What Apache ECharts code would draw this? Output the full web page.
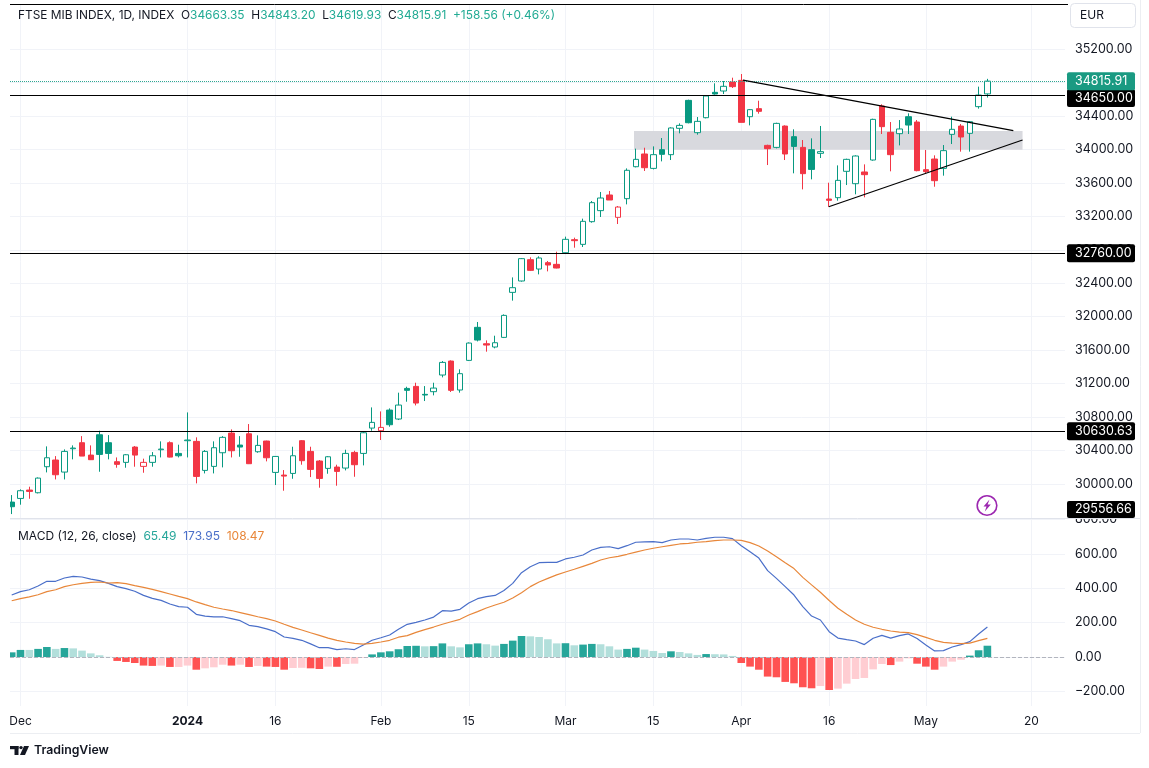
<!DOCTYPE html>
<html><head><meta charset="utf-8">
<style>html,body{margin:0;padding:0;background:#fff}#c{width:1149px;height:768px}</style>
<script src="https://cdn.jsdelivr.net/npm/echarts@6/dist/echarts.min.js"></script>
</head><body><div id="c"></div>
<script>
const opens=[29784,29828,29928,29896,30207,30287,30143,30422,30494,30346,30589,30494,30267,30259,30442,30211,30259,30410,30494,30366,30518,30510,30163,30211,30374,30609,30466,30601,30386,30514,30139,30107,30127,30518,30390,30275,30187,30203,30191,30378,30366,30669,30637,30884,30777,31143,31167,31072,31104,31303,31470,31124,31478,31873,31677,31638,31753,32291,32427,32682,32570,32646,32626,32765,32921,32865,33136,33268,33455,33188,33411,33793,33945,33773,33997,33937,34252,34586,34200,34379,34682,34698,34806,34825,34391,34487,34048,34024,34279,34152,34024,33997,33953,33407,33423,33738,33590,33730,33873,34519,34204,34188,34391,34327,33758,33885,33773,34180,34279,34192,34511,34663.35];
const closes=[29729,29920,29912,30071,30314,30111,30390,30430,30334,30291,30354,30366,30235,30350,30346,30259,30338,30418,30322,30338,30526,30091,30390,30434,30558,30398,30442,30243,30462,30314,30330,30095,30338,30279,30175,30067,30326,30151,30366,30231,30613,30737,30677,30709,30944,31120,30968,31064,31147,31454,31120,31319,31685,31721,31661,31689,32016,32347,32694,32554,32702,32618,32582,32925,32909,33140,33363,33419,33395,33311,33750,33881,33781,33937,33941,34256,34287,34319,34335,34638,34662,34754,34750,34323,34475,34455,34009,34311,33945,34036,33710,33761,33973,33391,33630,33881,33921,33698,34359,34272,33937,34244,34291,33746,33734,33626,33985,34240,34148,34331,34650,34815.91];
const highs=[29868,29936,29968,30079,30450,30334,30414,30462,30573,30462,30637,30585,30318,30358,30454,30303,30382,30510,30510,30470,30856,30558,30406,30510,30573,30653,30573,30717,30582,30518,30334,30167,30446,30526,30446,30287,30334,30231,30410,30398,30629,30916,30868,30904,31092,31163,31211,31171,31211,31470,31478,31371,31693,31937,31717,31773,32028,32470,32702,32710,32722,32666,32777,32957,32945,33172,33383,33491,33503,33323,33773,34009,34020,34036,34136,34264,34311,34594,34387,34646,34790,34817,34857,34901,34483,34582,34056,34319,34287,34240,34112,34132,34280,33602,33809,33889,33929,33821,34367,34539,34327,34351,34431,34351,33993,33929,34052,34391,34303,34339,34750,34843.2];
const lows=[29641,29753,29824,29888,30139,30055,30055,30295,30334,30287,30147,30295,30195,30195,30207,30135,30207,30318,30318,30318,30318,30008,30127,30127,30199,30318,30326,30239,30374,30271,29988,29920,30063,30231,30083,29956,30123,29980,30163,30087,30223,30637,30526,30685,30765,30984,30940,30992,31060,31275,31100,31092,31470,31705,31582,31622,31745,32192,32419,32546,32506,32542,32578,32749,32825,32833,33124,33192,33395,33108,33343,33785,33742,33761,33857,33873,34192,34311,34176,34371,34654,34662,34734,34323,34287,34427,33813,34012,33873,33714,33522,33642,33897,33315,33387,33574,33463,33427,33865,34184,33738,34048,34184,33738,33706,33554,33686,34064,33973,33973,34487,34619.93];
const macdLine=[360,380,391,413,440,440,459,469,465,453,444,428,409,397,382,358,341,329,308,293,289,248,238,233,234,223,211,184,176,163,147,116,108,97,76,54,54,43,48,43,70,97,112,128,161,190,201,215,232,269,267,277,314,339,351,358,386,428,490,525,548,550,550,570,580,593,622,637,641,630,647,667,669,671,665,680,686,686,680,690,696,696,688,647,612,575,502,457,409,360,293,238,215,147,110,101,93,72,109,126,110,124,134,107,70,35,37,58,72,89,134,173.95];
const signalLine=[327,339,349,362,380,391,409,420,428,434,436,430,432,426,415,405,393,380,366,352,339,320,304,289,279,270,258,246,234,223,209,190,172,157,141,126,110,97,87,79,75,79,87,97,115,124,143,159,174,190,205,219,244,264,285,302,318,343,374,409,436,457,477,494,510,527,544,564,577,585,597,610,622,632,641,649,657,661,667,671,676,680,680,678,665,645,616,583,548,514,463,419,376,328,283,248,215,190,173,161,151,145,142,130,114,97,85,81,78,81,95,108.47];
const histogram=[27,41,41,47,58,47,52,50,37,21,10,1,-23,-29,-35,-50,-52,-50,-58,-58,-50,-74,-66,-60,-45,-50,-45,-58,-52,-56,-58,-74,-64,-63,-66,-70,-56,-57,-41,-39,-4,15,27,33,45,64,65,62,63,79,62,56,74,79,74,66,76,95,122,120,116,103,79,80,68,72,76,74,62,43,47,54,43,35,23,33,29,21,12,17,16,15,6,-35,-56,-74,-114,-118,-145,-153,-176,-182,-169,-192,-184,-155,-128,-122,-72,-41,-47,-27,-8,-39,-56,-74,-56,-27,-16,8,39,65.49];
const timeTickIndex=[1,20,30,42,52,63,73,83,93,104,116];
const timeTickLabels=['Dec','2024','16','Feb','15','Mar','15','Apr','16','May','20'];
const priceTicks=[30000,30400,30800,31200,31600,32000,32400,32800,33200,33600,34000,34400,34800,35200];
const macdTicks=[-200,0,200,400,600,800];
const levels=[34650,32760,30630.63];
const zone=[[70.8,34220],[115,33995]];
const trendUpper=[[83.2,34829],[113.95,34224]];
const trendLower=[[92.95,33315],[115,34112]];

const FONT='Inter, "Noto Sans", sans-serif';
const UP='#089981',DOWN='#f23645',TXT='#131722',GRID='#f1f3f8';
const xMin=-0.193,xMax=119.83;
const fmt=v=>(v<0?'\u2212':'')+Math.abs(v).toFixed(2);

const candles=opens.map((o,i)=>{
  const c=closes[i],col=(i===0||c>=closes[i-1])?UP:DOWN,fill=c>o?'#fff':col;
  return {value:[i,o,c,lows[i],highs[i]],itemStyle:{color:fill,color0:fill,borderColor:col,borderColor0:col,borderWidth:1}};
});
const bars=histogram.map((v,i)=>{
  const p=i?histogram[i-1]:0;
  const col=v>=0?(v>p?'#26a69a':'#b2dfdb'):(v<p?'#ff5252':'#ffcdd2');
  return {value:[i,v],itemStyle:{color:col}};
});
const tag=(bg,dy)=>({show:true,position:'end',distance:2,offset:[0,dy||0],formatter:p=>Number(p.value).toFixed(2),color:'#fff',backgroundColor:bg,fontFamily:FONT,fontSize:12.5,padding:[3,3,2,8],width:57,align:'left',borderRadius:2});
const xCommon=(gridIndex,showLabel)=>({type:'value',gridIndex,min:xMin,max:xMax,
  axisLine:{show:false},splitLine:{show:true,lineStyle:{color:GRID,width:1}},
  axisTick:{show:false,customValues:timeTickIndex},
  axisLabel:{show:showLabel,customValues:timeTickIndex,margin:9,color:TXT,fontFamily:FONT,fontSize:12,
    formatter:v=>{const k=timeTickIndex.indexOf(v);return k<0?'':(timeTickLabels[k]==='2024'?'{b|2024}':timeTickLabels[k]);},
    rich:{b:{fontWeight:700,fontFamily:FONT,fontSize:12,color:TXT}}}});
const yCommon=(gridIndex,min,max,ticks)=>({type:'value',gridIndex,position:'right',min,max,scale:true,
  axisLine:{show:false},
  axisTick:{show:false,customValues:ticks},
  splitLine:{show:true,lineStyle:{color:GRID,width:1}},
  axisLabel:{customValues:ticks,margin:10,color:TXT,fontFamily:FONT,fontSize:12.5,padding:[4,0,0,0],formatter:fmt}});

const chart=echarts.init(document.getElementById('c'),null,{renderer:'canvas'});
chart.setOption({
  animation:false,backgroundColor:'#fff',
  grid:[{left:10,top:5,width:1055,height:513},{left:10,top:518,width:1055,height:188}],
  xAxis:[xCommon(0,false),xCommon(1,true)],
  yAxis:[yCommon(0,29594,35726,priceTicks),yCommon(1,-285,808,macdTicks)],
  series:[
    {type:'candlestick',xAxisIndex:0,yAxisIndex:0,barWidth:6,encode:{x:0,y:[1,2,3,4]},data:candles,z:3,
      markArea:{silent:true,itemStyle:{color:'#d8d9de'},data:[[{coord:zone[0]},{coord:zone[1]}]]},
      markLine:{silent:true,symbol:'none',animation:false,
        data:[
          ...levels.map((v,k)=>({yAxis:v,lineStyle:{color:'#000',width:1.2,type:'solid'},label:tag('#000',k===0?3:0)})),
          {yAxis:closes[closes.length-1],lineStyle:{color:'#2fa892',width:1,type:'dotted'},label:tag('#1a9a82')},
          [{coord:trendUpper[0],lineStyle:{color:'#000',width:1.2,type:'solid'},label:{show:false}},{coord:trendUpper[1]}],
          [{coord:trendLower[0],lineStyle:{color:'#000',width:1.2,type:'solid'},label:{show:false}},{coord:trendLower[1]}]
        ]}},
    {type:'bar',xAxisIndex:1,yAxisIndex:1,barWidth:7.6,clip:true,data:bars,z:2,
      markLine:{silent:true,symbol:'none',label:{show:false},lineStyle:{color:'#b2b5be',type:'dashed',width:1},data:[{yAxis:0}]}},
    {type:'line',xAxisIndex:1,yAxisIndex:1,data:macdLine.map((v,i)=>[i,v]),showSymbol:false,lineStyle:{color:'#4a6fc9',width:1.2},z:4},
    {type:'line',xAxisIndex:1,yAxisIndex:1,data:signalLine.map((v,i)=>[i,v]),showSymbol:false,lineStyle:{color:'#e8873a',width:1.2},z:4}
  ],
  graphic:[
    {type:'rect',z:40,shape:{x:0,y:0,width:10,height:734},style:{fill:'#fff'}},
    {type:'line',z:50,shape:{x1:10,y1:4.5,x2:1068,y2:4.5},style:{stroke:'#000',lineWidth:1}},
    {type:'line',z:1,shape:{x1:10,y1:518.5,x2:1140,y2:518.5},style:{stroke:'#e0e3eb',lineWidth:1}},
    {type:'line',z:1,shape:{x1:10,y1:733.5,x2:1140,y2:733.5},style:{stroke:'#eceef2',lineWidth:1}},
    {type:'line',z:1,shape:{x1:1140.5,y1:0,x2:1140.5,y2:733},style:{stroke:'#eceef2',lineWidth:1}},
    {type:'rect',z:50,shape:{x:1070.5,y:3.5,width:65,height:24,r:4},style:{fill:'#fff',stroke:'#e0e3eb',lineWidth:1}},
    {type:'text',z:51,x:1080,y:9,style:{text:'EUR',font:'12px '+FONT,fill:TXT}},
    {type:'text',z:51,x:18,y:9,style:{font:'11.9px '+FONT,
      text:'{k|FTSE MIB INDEX, 1D, INDEX}  {k|O}{v|34663.35}  {k|H}{v|34843.20}  {k|L}{v|34619.93}  {k|C}{v|34815.91}  {v|+158.56 (+0.46%)}',
      rich:{k:{fill:TXT,font:'11.9px '+FONT},v:{fill:'#22ab94',font:'11.9px '+FONT}}}},
    {type:'text',z:51,x:18,y:530,style:{font:'12px '+FONT,
      text:'{k|MACD (12, 26, close)}  {a|65.49}  {b|173.95}  {c|108.47}',
      rich:{k:{fill:TXT,font:'12px '+FONT},a:{fill:'#26a69a',font:'12px '+FONT},b:{fill:'#4a6fc9',font:'12px '+FONT},c:{fill:'#e8873a',font:'12px '+FONT}}}},
    {type:'rect',z:60,shape:{x:1067,y:501,width:68,height:17,r:2},style:{fill:'#000'}},
    {type:'text',z:61,x:1075,y:503,style:{text:'29556.66',font:'12.5px '+FONT,fill:'#fff'}},
    {type:'circle',z:50,shape:{cx:987,cy:505.5,r:9.8},style:{fill:'#fff',stroke:'#9c27b0',lineWidth:1.6}},
    {type:'polygon',z:51,shape:{points:[[989.5,499.5],[983.5,506.5],[986.5,506.5],[984.8,511.5],[990.8,504.5],[987.6,504.5]]},style:{fill:'#9c27b0'}},
    {type:'rect',z:50,shape:{x:10,y:746,width:8.5,height:3.2},style:{fill:TXT}},
    {type:'rect',z:50,shape:{x:14.5,y:746,width:4,height:9},style:{fill:TXT}},
    {type:'circle',z:50,shape:{cx:21,cy:747.6,r:1.7},style:{fill:TXT}},
    {type:'polygon',z:50,shape:{points:[[24,746],[29,746],[25,755],[20,755]]},style:{fill:TXT}},
    {type:'text',z:50,x:34,y:744,style:{text:'TradingView',font:'600 12.3px '+FONT,fill:TXT}}
  ]
});
</script></body></html>
